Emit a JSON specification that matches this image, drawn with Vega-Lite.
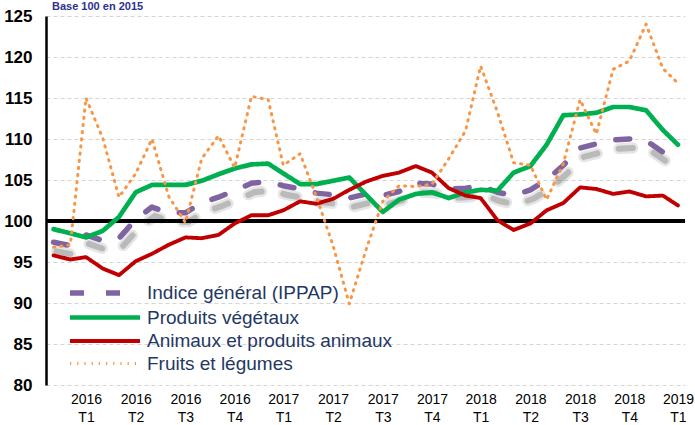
{
  "$schema": "https://vega.github.io/schema/vega-lite/v6.json",
  "width": 639,
  "height": 369,
  "autosize": {"type": "none"},
  "padding": {"left": 46, "top": 16, "right": 10, "bottom": 40},
  "background": "white",
  "config": {"view": {"stroke": null}, "font": "Liberation Sans", "line": {"strokeCap": "round"}},
  "title": {"text": "Base 100 en 2015", "anchor": "start", "frame": "group", "color": "#2E3192", "fontSize": 11, "font": "Liberation Sans", "fontWeight": "bold", "dx": 6, "offset": -14, "baseline": "alphabetic"},
  "data": {"values": [
    {"date": "2016-01-01T00:00", "serie": "Indice général (IPPAP)", "value": 97.4},
    {"date": "2016-02-01T00:00", "serie": "Indice général (IPPAP)", "value": 97.0},
    {"date": "2016-03-01T00:00", "serie": "Indice général (IPPAP)", "value": 98.3},
    {"date": "2016-04-01T00:00", "serie": "Indice général (IPPAP)", "value": 97.6},
    {"date": "2016-05-01T00:00", "serie": "Indice général (IPPAP)", "value": 97.9},
    {"date": "2016-06-01T00:00", "serie": "Indice général (IPPAP)", "value": 100.2},
    {"date": "2016-07-01T00:00", "serie": "Indice général (IPPAP)", "value": 101.7},
    {"date": "2016-08-01T00:00", "serie": "Indice général (IPPAP)", "value": 101.0},
    {"date": "2016-09-01T00:00", "serie": "Indice général (IPPAP)", "value": 101.0},
    {"date": "2016-10-01T00:00", "serie": "Indice général (IPPAP)", "value": 102.2},
    {"date": "2016-11-01T00:00", "serie": "Indice général (IPPAP)", "value": 102.9},
    {"date": "2016-12-01T00:00", "serie": "Indice général (IPPAP)", "value": 103.7},
    {"date": "2017-01-01T00:00", "serie": "Indice général (IPPAP)", "value": 104.6},
    {"date": "2017-02-01T00:00", "serie": "Indice général (IPPAP)", "value": 104.8},
    {"date": "2017-03-01T00:00", "serie": "Indice général (IPPAP)", "value": 104.3},
    {"date": "2017-04-01T00:00", "serie": "Indice général (IPPAP)", "value": 103.9},
    {"date": "2017-05-01T00:00", "serie": "Indice général (IPPAP)", "value": 103.4},
    {"date": "2017-06-01T00:00", "serie": "Indice général (IPPAP)", "value": 103.2},
    {"date": "2017-07-01T00:00", "serie": "Indice général (IPPAP)", "value": 102.8},
    {"date": "2017-08-01T00:00", "serie": "Indice général (IPPAP)", "value": 103.3},
    {"date": "2017-09-01T00:00", "serie": "Indice général (IPPAP)", "value": 103.1},
    {"date": "2017-10-01T00:00", "serie": "Indice général (IPPAP)", "value": 103.6},
    {"date": "2017-11-01T00:00", "serie": "Indice général (IPPAP)", "value": 104.6},
    {"date": "2017-12-01T00:00", "serie": "Indice général (IPPAP)", "value": 104.5},
    {"date": "2018-01-01T00:00", "serie": "Indice général (IPPAP)", "value": 103.9},
    {"date": "2018-02-01T00:00", "serie": "Indice général (IPPAP)", "value": 104.0},
    {"date": "2018-03-01T00:00", "serie": "Indice général (IPPAP)", "value": 104.3},
    {"date": "2018-04-01T00:00", "serie": "Indice général (IPPAP)", "value": 103.5},
    {"date": "2018-05-01T00:00", "serie": "Indice général (IPPAP)", "value": 103.1},
    {"date": "2018-06-01T00:00", "serie": "Indice général (IPPAP)", "value": 103.8},
    {"date": "2018-07-01T00:00", "serie": "Indice général (IPPAP)", "value": 105.0},
    {"date": "2018-08-01T00:00", "serie": "Indice général (IPPAP)", "value": 106.8},
    {"date": "2018-09-01T00:00", "serie": "Indice général (IPPAP)", "value": 108.9},
    {"date": "2018-10-01T00:00", "serie": "Indice général (IPPAP)", "value": 109.4},
    {"date": "2018-11-01T00:00", "serie": "Indice général (IPPAP)", "value": 109.9},
    {"date": "2018-12-01T00:00", "serie": "Indice général (IPPAP)", "value": 110.0},
    {"date": "2019-01-01T00:00", "serie": "Indice général (IPPAP)", "value": 109.8},
    {"date": "2019-02-01T00:00", "serie": "Indice général (IPPAP)", "value": 108.4},
    {"date": "2019-03-01T00:00", "serie": "Indice général (IPPAP)", "value": 106.7},

    {"date": "2016-01-01T00:00", "serie": "Produits végétaux", "value": 99.0},
    {"date": "2016-02-01T00:00", "serie": "Produits végétaux", "value": 98.5},
    {"date": "2016-03-01T00:00", "serie": "Produits végétaux", "value": 98.0},
    {"date": "2016-04-01T00:00", "serie": "Produits végétaux", "value": 98.8},
    {"date": "2016-05-01T00:00", "serie": "Produits végétaux", "value": 100.5},
    {"date": "2016-06-01T00:00", "serie": "Produits végétaux", "value": 103.5},
    {"date": "2016-07-01T00:00", "serie": "Produits végétaux", "value": 104.4},
    {"date": "2016-08-01T00:00", "serie": "Produits végétaux", "value": 104.4},
    {"date": "2016-09-01T00:00", "serie": "Produits végétaux", "value": 104.4},
    {"date": "2016-10-01T00:00", "serie": "Produits végétaux", "value": 104.9},
    {"date": "2016-11-01T00:00", "serie": "Produits végétaux", "value": 105.7},
    {"date": "2016-12-01T00:00", "serie": "Produits végétaux", "value": 106.4},
    {"date": "2017-01-01T00:00", "serie": "Produits végétaux", "value": 106.9},
    {"date": "2017-02-01T00:00", "serie": "Produits végétaux", "value": 107.0},
    {"date": "2017-03-01T00:00", "serie": "Produits végétaux", "value": 105.8},
    {"date": "2017-04-01T00:00", "serie": "Produits végétaux", "value": 104.5},
    {"date": "2017-05-01T00:00", "serie": "Produits végétaux", "value": 104.5},
    {"date": "2017-06-01T00:00", "serie": "Produits végétaux", "value": 104.9},
    {"date": "2017-07-01T00:00", "serie": "Produits végétaux", "value": 105.3},
    {"date": "2017-08-01T00:00", "serie": "Produits végétaux", "value": 103.2},
    {"date": "2017-09-01T00:00", "serie": "Produits végétaux", "value": 101.1},
    {"date": "2017-10-01T00:00", "serie": "Produits végétaux", "value": 102.6},
    {"date": "2017-11-01T00:00", "serie": "Produits végétaux", "value": 103.3},
    {"date": "2017-12-01T00:00", "serie": "Produits végétaux", "value": 103.5},
    {"date": "2018-01-01T00:00", "serie": "Produits végétaux", "value": 102.8},
    {"date": "2018-02-01T00:00", "serie": "Produits végétaux", "value": 103.5},
    {"date": "2018-03-01T00:00", "serie": "Produits végétaux", "value": 103.8},
    {"date": "2018-04-01T00:00", "serie": "Produits végétaux", "value": 103.7},
    {"date": "2018-05-01T00:00", "serie": "Produits végétaux", "value": 105.9},
    {"date": "2018-06-01T00:00", "serie": "Produits végétaux", "value": 106.7},
    {"date": "2018-07-01T00:00", "serie": "Produits végétaux", "value": 109.3},
    {"date": "2018-08-01T00:00", "serie": "Produits végétaux", "value": 112.9},
    {"date": "2018-09-01T00:00", "serie": "Produits végétaux", "value": 113.0},
    {"date": "2018-10-01T00:00", "serie": "Produits végétaux", "value": 113.2},
    {"date": "2018-11-01T00:00", "serie": "Produits végétaux", "value": 113.9},
    {"date": "2018-12-01T00:00", "serie": "Produits végétaux", "value": 113.9},
    {"date": "2019-01-01T00:00", "serie": "Produits végétaux", "value": 113.5},
    {"date": "2019-02-01T00:00", "serie": "Produits végétaux", "value": 111.1},
    {"date": "2019-03-01T00:00", "serie": "Produits végétaux", "value": 109.3},

    {"date": "2016-01-01T00:00", "serie": "Animaux et produits animaux", "value": 95.8},
    {"date": "2016-02-01T00:00", "serie": "Animaux et produits animaux", "value": 95.3},
    {"date": "2016-03-01T00:00", "serie": "Animaux et produits animaux", "value": 95.6},
    {"date": "2016-04-01T00:00", "serie": "Animaux et produits animaux", "value": 94.2},
    {"date": "2016-05-01T00:00", "serie": "Animaux et produits animaux", "value": 93.4},
    {"date": "2016-06-01T00:00", "serie": "Animaux et produits animaux", "value": 95.1},
    {"date": "2016-07-01T00:00", "serie": "Animaux et produits animaux", "value": 96.0},
    {"date": "2016-08-01T00:00", "serie": "Animaux et produits animaux", "value": 97.1},
    {"date": "2016-09-01T00:00", "serie": "Animaux et produits animaux", "value": 98.0},
    {"date": "2016-10-01T00:00", "serie": "Animaux et produits animaux", "value": 97.9},
    {"date": "2016-11-01T00:00", "serie": "Animaux et produits animaux", "value": 98.3},
    {"date": "2016-12-01T00:00", "serie": "Animaux et produits animaux", "value": 99.7},
    {"date": "2017-01-01T00:00", "serie": "Animaux et produits animaux", "value": 100.7},
    {"date": "2017-02-01T00:00", "serie": "Animaux et produits animaux", "value": 100.7},
    {"date": "2017-03-01T00:00", "serie": "Animaux et produits animaux", "value": 101.3},
    {"date": "2017-04-01T00:00", "serie": "Animaux et produits animaux", "value": 102.4},
    {"date": "2017-05-01T00:00", "serie": "Animaux et produits animaux", "value": 102.1},
    {"date": "2017-06-01T00:00", "serie": "Animaux et produits animaux", "value": 102.7},
    {"date": "2017-07-01T00:00", "serie": "Animaux et produits animaux", "value": 103.8},
    {"date": "2017-08-01T00:00", "serie": "Animaux et produits animaux", "value": 104.8},
    {"date": "2017-09-01T00:00", "serie": "Animaux et produits animaux", "value": 105.5},
    {"date": "2017-10-01T00:00", "serie": "Animaux et produits animaux", "value": 105.9},
    {"date": "2017-11-01T00:00", "serie": "Animaux et produits animaux", "value": 106.7},
    {"date": "2017-12-01T00:00", "serie": "Animaux et produits animaux", "value": 105.9},
    {"date": "2018-01-01T00:00", "serie": "Animaux et produits animaux", "value": 104.0},
    {"date": "2018-02-01T00:00", "serie": "Animaux et produits animaux", "value": 103.1},
    {"date": "2018-03-01T00:00", "serie": "Animaux et produits animaux", "value": 102.8},
    {"date": "2018-04-01T00:00", "serie": "Animaux et produits animaux", "value": 100.1},
    {"date": "2018-05-01T00:00", "serie": "Animaux et produits animaux", "value": 98.9},
    {"date": "2018-06-01T00:00", "serie": "Animaux et produits animaux", "value": 99.7},
    {"date": "2018-07-01T00:00", "serie": "Animaux et produits animaux", "value": 101.3},
    {"date": "2018-08-01T00:00", "serie": "Animaux et produits animaux", "value": 102.2},
    {"date": "2018-09-01T00:00", "serie": "Animaux et produits animaux", "value": 104.1},
    {"date": "2018-10-01T00:00", "serie": "Animaux et produits animaux", "value": 103.9},
    {"date": "2018-11-01T00:00", "serie": "Animaux et produits animaux", "value": 103.3},
    {"date": "2018-12-01T00:00", "serie": "Animaux et produits animaux", "value": 103.6},
    {"date": "2019-01-01T00:00", "serie": "Animaux et produits animaux", "value": 103.0},
    {"date": "2019-02-01T00:00", "serie": "Animaux et produits animaux", "value": 103.1},
    {"date": "2019-03-01T00:00", "serie": "Animaux et produits animaux", "value": 101.9},

    {"date": "2016-01-01T00:00", "serie": "Fruits et légumes", "value": 96.8},
    {"date": "2016-02-01T00:00", "serie": "Fruits et légumes", "value": 97.1},
    {"date": "2016-03-01T00:00", "serie": "Fruits et légumes", "value": 115.0},
    {"date": "2016-04-01T00:00", "serie": "Fruits et légumes", "value": 110.1},
    {"date": "2016-05-01T00:00", "serie": "Fruits et légumes", "value": 102.9},
    {"date": "2016-06-01T00:00", "serie": "Fruits et légumes", "value": 105.8},
    {"date": "2016-07-01T00:00", "serie": "Fruits et légumes", "value": 110.0},
    {"date": "2016-08-01T00:00", "serie": "Fruits et légumes", "value": 103.0},
    {"date": "2016-09-01T00:00", "serie": "Fruits et légumes", "value": 99.8},
    {"date": "2016-10-01T00:00", "serie": "Fruits et légumes", "value": 107.6},
    {"date": "2016-11-01T00:00", "serie": "Fruits et légumes", "value": 110.4},
    {"date": "2016-12-01T00:00", "serie": "Fruits et légumes", "value": 106.5},
    {"date": "2017-01-01T00:00", "serie": "Fruits et légumes", "value": 115.2},
    {"date": "2017-02-01T00:00", "serie": "Fruits et légumes", "value": 114.8},
    {"date": "2017-03-01T00:00", "serie": "Fruits et légumes", "value": 106.8},
    {"date": "2017-04-01T00:00", "serie": "Fruits et légumes", "value": 108.2},
    {"date": "2017-05-01T00:00", "serie": "Fruits et légumes", "value": 103.0},
    {"date": "2017-06-01T00:00", "serie": "Fruits et légumes", "value": 97.0},
    {"date": "2017-07-01T00:00", "serie": "Fruits et légumes", "value": 89.9},
    {"date": "2017-08-01T00:00", "serie": "Fruits et légumes", "value": 96.5},
    {"date": "2017-09-01T00:00", "serie": "Fruits et légumes", "value": 102.4},
    {"date": "2017-10-01T00:00", "serie": "Fruits et légumes", "value": 104.3},
    {"date": "2017-11-01T00:00", "serie": "Fruits et légumes", "value": 104.2},
    {"date": "2017-12-01T00:00", "serie": "Fruits et légumes", "value": 104.5},
    {"date": "2018-01-01T00:00", "serie": "Fruits et légumes", "value": 107.6},
    {"date": "2018-02-01T00:00", "serie": "Fruits et légumes", "value": 111.0},
    {"date": "2018-03-01T00:00", "serie": "Fruits et légumes", "value": 118.9},
    {"date": "2018-04-01T00:00", "serie": "Fruits et légumes", "value": 113.3},
    {"date": "2018-05-01T00:00", "serie": "Fruits et légumes", "value": 107.1},
    {"date": "2018-06-01T00:00", "serie": "Fruits et légumes", "value": 106.8},
    {"date": "2018-07-01T00:00", "serie": "Fruits et légumes", "value": 102.6},
    {"date": "2018-08-01T00:00", "serie": "Fruits et légumes", "value": 107.0},
    {"date": "2018-09-01T00:00", "serie": "Fruits et légumes", "value": 114.8},
    {"date": "2018-10-01T00:00", "serie": "Fruits et légumes", "value": 110.6},
    {"date": "2018-11-01T00:00", "serie": "Fruits et légumes", "value": 118.5},
    {"date": "2018-12-01T00:00", "serie": "Fruits et légumes", "value": 119.5},
    {"date": "2019-01-01T00:00", "serie": "Fruits et légumes", "value": 124.0},
    {"date": "2019-02-01T00:00", "serie": "Fruits et légumes", "value": 118.6},
    {"date": "2019-03-01T00:00", "serie": "Fruits et légumes", "value": 116.8}
  ]},
  "encoding": {
    "x": {
      "field": "date", "type": "temporal",
      "scale": {"domain": [{"year": 2015, "month": 12, "date": 18}, {"year": 2019, "month": 3, "date": 14}]},
      "axis": {
        "title": null, "domain": false, "ticks": false, "grid": false,
        "values": [
          {"year": 2016, "month": 3, "date": 1}, {"year": 2016, "month": 6, "date": 1}, {"year": 2016, "month": 9, "date": 1}, {"year": 2016, "month": 12, "date": 1},
          {"year": 2017, "month": 3, "date": 1}, {"year": 2017, "month": 6, "date": 1}, {"year": 2017, "month": 9, "date": 1}, {"year": 2017, "month": 12, "date": 1},
          {"year": 2018, "month": 3, "date": 1}, {"year": 2018, "month": 6, "date": 1}, {"year": 2018, "month": 9, "date": 1}, {"year": 2018, "month": 12, "date": 1},
          {"year": 2019, "month": 3, "date": 1}
        ],
        "labelExpr": "[timeFormat(datum.value, '%Y'), 'T' + (floor(month(datum.value) / 3) + 1)]",
        "labelFont": "Liberation Sans", "labelFontSize": 14, "labelColor": "black",
        "labelPadding": 7, "labelLineHeight": 18, "labelOverlap": false, "labelFlush": false
      }
    },
    "y": {
      "field": "value", "type": "quantitative",
      "scale": {"domain": [80, 125], "nice": false, "zero": false},
      "axis": {
        "title": null, "values": [80, 85, 90, 95, 100, 105, 110, 115, 120, 125],
        "domainColor": "black", "domainWidth": 2.5, "ticks": false, "tickSize": 0,
        "grid": true, "gridColor": "#d4d4d4", "gridDash": [4, 3], "gridWidth": 1,
        "labelFont": "Liberation Sans", "labelFontSize": 17, "labelFontWeight": "bold", "labelColor": "black", "labelPadding": 14
      }
    }
  },
  "layer": [
    {
      "transform": [{"filter": "datum.serie === 'Indice général (IPPAP)'"}],
      "mark": {"type": "line", "color": "#6f6f6f", "opacity": 0.18, "strokeWidth": 11, "strokeDash": [14, 22], "strokeCap": "round", "xOffset": 3, "yOffset": 9}
    },
    {
      "transform": [{"filter": "datum.serie === 'Indice général (IPPAP)'"}],
      "mark": {"type": "line", "color": "#555555", "opacity": 0.3, "strokeWidth": 6, "strokeDash": [14, 22], "strokeCap": "round", "xOffset": 3, "yOffset": 9}
    },
    {
      "mark": {"type": "rule", "color": "black", "strokeWidth": 3},
      "encoding": {"y": {"datum": 100}, "x": null}
    },
    {
      "mark": {"type": "line", "strokeCap": "round", "strokeJoin": "round"},
      "encoding": {
        "color": {
          "field": "serie", "type": "nominal",
          "scale": {"domain": ["Indice général (IPPAP)", "Produits végétaux", "Animaux et produits animaux", "Fruits et légumes"], "range": ["#8064A2", "#00B050", "#C00000", "#F79646"]},
          "legend": {
            "title": null, "orient": "none", "legendX": 46, "legendY": 264,
            "symbolType": "M-3.5,0H3.5", "symbolSize": 400,
            "labelFont": "Liberation Sans", "labelFontSize": 19, "labelColor": "#1F3864", "labelOffset": 29, "labelLimit": 500,
            "rowPadding": 1
          }
        },
        "strokeDash": {
          "field": "serie", "type": "nominal",
          "scale": {"domain": ["Indice général (IPPAP)", "Produits végétaux", "Animaux et produits animaux", "Fruits et légumes"], "range": [[14, 22], [1, 0], [1, 0], [1.2, 6]]}
        },
        "strokeWidth": {
          "field": "serie", "type": "nominal",
          "scale": {"domain": ["Indice général (IPPAP)", "Produits végétaux", "Animaux et produits animaux", "Fruits et légumes"], "range": [5.5, 3, 3, 3.6]}
        },
        "order": {"field": "date"}
      }
    }
  ]
}
